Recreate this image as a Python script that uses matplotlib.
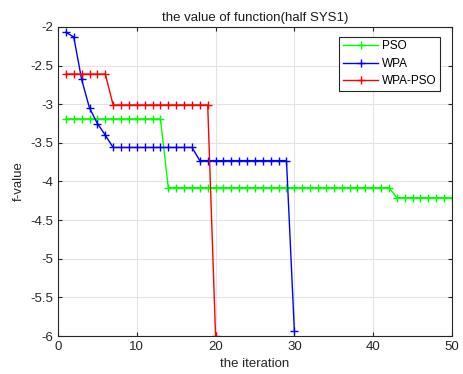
import matplotlib
matplotlib.use('Agg')
import matplotlib.pyplot as plt
import numpy as np

plt.rcParams['font.family'] = ['Liberation Sans', 'DejaVu Sans']

pso_x = list(range(1, 51))
pso_y = [-3.19]*13 + [-4.08]*29 + [-4.21]*8
wpa_x = list(range(1, 31))
wpa_y = [-2.07, -2.13, -2.68, -3.05, -3.25, -3.40] + [-3.56]*11 + [-3.73]*12 + [-5.93]
wp_x = list(range(1, 21))
wp_y = [-2.61]*6 + [-3.01]*13 + [-6.0]

fig = plt.figure(figsize=(4.64, 3.74), dpi=100)
ax = fig.add_axes([0.125, 0.1016, 0.849, 0.8264])
ax.plot(pso_x, pso_y, color='#00ff00', marker='+', ms=6, lw=1, label='PSO')
ax.plot(wpa_x, wpa_y, color='#0000ff', marker='+', ms=6, lw=1, label='WPA')
ax.plot(wp_x, wp_y, color='#ff0000', marker='+', ms=6, lw=1, label='WPA-PSO')

ax.set_xlim(0, 50)
ax.set_ylim(-6, -2)
ax.set_xticks(range(0, 51, 10))
ax.set_yticks(np.arange(-6, -1.9, 0.5))
ax.set_yticklabels(['-6', '-5.5', '-5', '-4.5', '-4', '-3.5', '-3', '-2.5', '-2'])
ax.grid(True, color='#e3e3e3', lw=0.8)
ax.set_axisbelow(True)
ax.tick_params(direction='in', top=True, right=True, labelsize=9.5, length=3, colors='#262626')
for s in ax.spines.values():
    s.set_color('#262626')
    s.set_linewidth(0.8)
ax.set_title('the value of function(half SYS1)', fontsize=9.5, color='#1a1a1a', pad=4)
ax.set_xlabel('the iteration', fontsize=9.5, color='#262626')
ax.set_ylabel('f-value', fontsize=9.5, color='#262626')
leg = ax.legend(loc='upper right', bbox_to_anchor=(0.9695, 0.9676), borderaxespad=0, fontsize=8.5,
                fancybox=False, framealpha=1, edgecolor='#262626', handlelength=3.0,
                handletextpad=0.3, borderpad=0.3, labelspacing=0.45)
leg.get_frame().set_linewidth(0.8)
fig.savefig('out.png', dpi=100)
